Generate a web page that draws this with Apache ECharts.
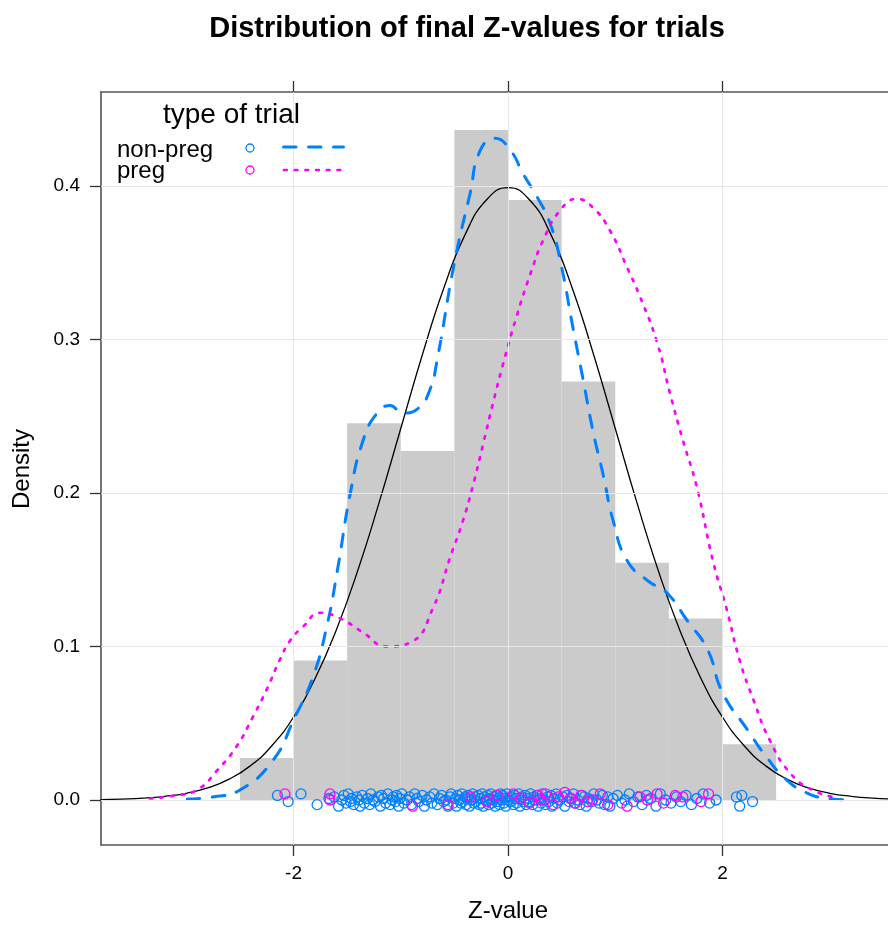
<!DOCTYPE html>
<html>
<head>
<meta charset="utf-8">
<script src="https://cdn.jsdelivr.net/npm/echarts@6/dist/echarts.min.js"></script>
<style>
html,body{margin:0;padding:0;background:#fff;}
#chart{width:888px;height:926px;}
</style>
</head>
<body>
<div id="chart"></div>
<script>
// ---- data ----
const binEdges = [-2.5, -2, -1.5, -1, -0.5, 0, 0.5, 1, 1.5, 2, 2.5];
const binDensity = [0.0273, 0.0909, 0.2455, 0.2273, 0.4364, 0.3909, 0.2727, 0.1545, 0.1182, 0.0364];

const xTicks = [-2, 0, 2];
const yTicks = [0, 0.1, 0.2, 0.3, 0.4];

// reference normal curve
const normX = [-3.8,-3.6,-3.4,-3.2,-3.0,-2.8,-2.6,-2.4,-2.2,-2.0,-1.8,-1.6,-1.4,-1.2,-1.0,-0.8,-0.6,-0.4,-0.2,0,
               0.2,0.4,0.6,0.8,1.0,1.2,1.4,1.6,1.8,2.0,2.2,2.4,2.6,2.8,3.0,3.2,3.4,3.6,3.8];
const normY = [0.0003,0.0006,0.0012,0.0024,0.0044,0.0079,0.0136,0.0224,0.0355,0.0540,0.0790,0.1109,0.1497,0.1942,0.2420,0.2897,0.3332,0.3683,0.3910,0.3989,
               0.3910,0.3683,0.3332,0.2897,0.2420,0.1942,0.1497,0.1109,0.0790,0.0540,0.0355,0.0224,0.0136,0.0079,0.0044,0.0024,0.0012,0.0006,0.0003];

// non-preg density curve
const nonPregX = [-2.99,-2.75,-2.50,-2.19,-2.00,-1.82,-1.69,-1.59,-1.47,-1.35,-1.22,-1.10,-0.98,-0.84,-0.73,-0.66,-0.50,-0.354,-0.26,-0.12,
                  0.02,0.14,0.27,0.39,0.485,0.61,0.70,0.79,0.89,0.98,1.11,1.30,1.48,1.67,1.86,2.00,2.23,2.41,2.60,2.79,2.97,3.12];
const nonPregY = [0.0007,0.0020,0.0065,0.026,0.052,0.080,0.113,0.150,0.200,0.2345,0.252,0.257,0.252,0.255,0.267,0.287,0.350,0.395,0.423,0.431,
                  0.4235,0.408,0.393,0.376,0.352,0.306,0.274,0.241,0.211,0.182,0.156,0.143,0.135,0.117,0.098,0.070,0.046,0.028,0.013,0.0045,0.001,0.0002];

// preg density curve
const pregX = [-3.34,-3.10,-2.90,-2.71,-2.53,-2.38,-2.25,-2.13,-2.03,-1.91,-1.75,-1.57,-1.35,-1.13,-0.90,-0.70,-0.54,-0.42,-0.33,-0.23,-0.14,-0.05,
               0.08,0.21,0.33,0.485,0.64,0.79,0.95,1.11,1.23,1.39,1.51,1.63,1.76,1.91,2.04,2.16,2.29,2.44,2.63,2.84,3.07];
const pregY = [0.001,0.003,0.0065,0.0195,0.035,0.054,0.072,0.091,0.104,0.113,0.122,0.1185,0.109,0.100,0.103,0.125,0.158,0.182,0.204,0.2325,0.2585,0.283,
               0.315,0.343,0.365,0.384,0.3915,0.386,0.371,0.347,0.328,0.298,0.265,0.2345,0.204,0.156,0.124,0.091,0.065,0.039,0.0176,0.0065,0.0013];

// rug points (Z-values) with their vertical jitter
const nonPregRug = [-2.15,-2.05,
  -1.93,-1.78,-1.67,-1.62,-1.58,-1.55,-1.53,-1.51,
  -1.49,-1.47,-1.46,-1.44,-1.41,-1.39,-1.38,-1.36,-1.34,-1.31,-1.29,-1.28,-1.26,-1.24,-1.21,-1.19,-1.18,-1.16,-1.14,-1.12,-1.10,-1.08,-1.07,-1.05,-1.04,-1.02,-1.01,
  -0.99,-0.97,-0.94,-0.92,-0.90,-0.87,-0.85,-0.83,-0.80,-0.78,-0.76,-0.73,-0.71,-0.69,-0.66,-0.64,-0.62,-0.60,-0.58,-0.56,-0.54,-0.53,-0.51,
  -0.49,-0.48,-0.47,-0.45,-0.44,-0.43,-0.42,-0.40,-0.39,-0.38,-0.37,-0.36,-0.34,-0.33,-0.32,-0.31,-0.30,-0.28,-0.27,-0.26,-0.25,-0.24,-0.23,-0.22,-0.21,-0.20,-0.19,-0.18,-0.17,-0.16,-0.15,-0.14,-0.13,-0.12,-0.11,-0.10,-0.09,-0.08,-0.07,-0.06,-0.05,-0.04,-0.03,-0.02,-0.01,
  0.01,0.02,0.03,0.05,0.06,0.07,0.08,0.10,0.11,0.12,0.13,0.15,0.16,0.17,0.19,0.20,0.21,0.23,0.24,0.25,0.27,0.28,0.30,0.31,0.32,0.34,0.35,0.37,0.38,0.40,0.41,0.43,0.45,0.46,0.48,
  0.51,0.53,0.55,0.57,0.59,0.61,0.63,0.65,0.67,0.69,0.71,0.73,0.75,0.78,0.80,0.83,0.85,0.88,0.90,0.93,0.95,0.98,
  1.02,1.06,1.09,1.13,1.17,1.21,1.25,1.29,1.33,1.38,1.42,1.47,
  1.52,1.57,1.61,1.66,1.71,1.76,1.82,1.88,1.94,
  2.13,2.16,2.18,2.28];
const nonPregJitter = [
  0.003,-0.001,0.004,-0.003,0.001,0.002,-0.004,0.000,0.003,-0.002,0.004,-0.001,0.001,-0.003,0.002,0.000,-0.004,0.003,-0.002,0.001,
  -0.003,0.004,0.000,-0.001,0.002,-0.004,0.003,0.001,-0.002,0.004,-0.003,0.000,0.002,-0.001,0.003,-0.004,0.001,0.004,-0.002,0.000,
  0.002,-0.003,0.004,0.001,-0.001,0.003,-0.004,0.000,0.002,-0.002,0.004,-0.003,0.001,0.003,-0.001,0.000,-0.004,0.002,0.004,-0.002,
  0.001,-0.004,0.003,0.000,-0.002,0.004,-0.001,0.002,-0.003,0.001,0.003,-0.004,0.000,0.004,-0.002,0.002,-0.001,0.003,-0.003,0.001,
  -0.002,0.004,-0.004,0.002,0.000,-0.001,0.003,-0.003,0.001,0.004,-0.002,0.000,0.002,-0.004,0.003,-0.001,0.001,-0.003,0.004,0.000,
  0.003,-0.002,0.001,-0.004,0.004,0.000,-0.001,0.002,-0.003,0.003,0.001,-0.002,0.004,-0.004,0.000,0.002,-0.001,0.003,-0.003,0.001,
  -0.001,0.004,-0.003,0.002,0.000,0.003,-0.004,0.001,-0.002,0.004,0.000,-0.003,0.002,-0.001,0.003,-0.004,0.001,0.004,-0.002,0.000,
  0.002,-0.004,0.003,-0.001,0.001,0.004,-0.002,0.000,-0.003,0.003,0.002,-0.004,0.001,-0.001,0.004,0.000,-0.002,0.003,-0.003,0.002,
  -0.004,0.001,0.003,-0.002,0.000,0.004,-0.001,0.002,-0.003,0.003,0.001,-0.004,0.004,0.000,-0.002,0.002,-0.001,
  0.003,-0.003,0.001,0.004,-0.002,0.000,0.002,-0.004,0.003,-0.001];
const pregRug = [-2.08,-1.66,-1.66,-0.89,-0.56,-0.35,-0.20,-0.10,0.05,0.12,0.20,0.28,0.31,0.35,0.42,0.47,0.53,0.58,0.62,0.68,0.74,0.79,0.86,0.93,
  1.11,1.23,1.30,1.39,1.45,1.56,1.63,1.80,1.87];
const pregJitter = [0.004,0.004,0.000,-0.004,-0.003,0.002,-0.001,0.003,0.004,0.001,-0.002,0.003,0.000,0.004,-0.003,0.002,0.005,0.001,-0.002,0.003,-0.001,0.000,0.004,-0.003,
  -0.004,0.002,0.000,0.004,-0.002,0.003,0.002,-0.001,0.004];

const groups = ['non-preg', 'preg'];
const titleText = 'Distribution of final Z-values for trials';

// ---- build ----
const FONT = 'Liberation Sans, Arial, Helvetica, sans-serif';
const BLUE = '#0080ff';
const MAG = '#ff00ff';
const zip = (a, b) => a.map((v, i) => [v, b[i] || 0]);

const histData = binDensity.map((d, i) => [binEdges[i], binEdges[i + 1], d]);

const chart = echarts.init(document.getElementById('chart'), null, {renderer: 'canvas'});

const gridLines = xTicks.map(v => ({xAxis: v})).concat(yTicks.map(v => ({yAxis: v})));

const X_MIN = -3.795, X_MAX = 3.543;

const option = {
  animation: false,
  backgroundColor: '#ffffff',
  grid: {left: 101, top: 92, right: 0, height: 753, containLabel: false},
  xAxis: [{
    type: 'value', position: 'bottom', min: X_MIN, max: X_MAX,
    axisLine: {show: true, onZero: false, lineStyle: {color: '#555', width: 1.6}},
    axisTick: {show: true, customValues: xTicks, length: 11, inside: false, lineStyle: {color: '#333', width: 1.3}},
    axisLabel: {show: true, customValues: xTicks, margin: 19, fontSize: 19, color: '#000', fontFamily: FONT},
    splitLine: {show: false}
  }, {
    type: 'value', position: 'top', min: X_MIN, max: X_MAX,
    axisLine: {show: true, onZero: false, lineStyle: {color: '#555', width: 1.6}},
    axisTick: {show: true, customValues: xTicks, length: 11, inside: false, lineStyle: {color: '#333', width: 1.3}},
    axisLabel: {show: false},
    splitLine: {show: false}
  }],
  yAxis: [{
    type: 'value', position: 'left', min: -0.0293, max: 0.4612,
    axisLine: {show: true, onZero: false, lineStyle: {color: '#555', width: 1.6}},
    axisTick: {show: true, customValues: yTicks, length: 11, inside: false, lineStyle: {color: '#333', width: 1.3}},
    axisLabel: {show: true, customValues: yTicks, margin: 21, fontSize: 19, color: '#000', fontFamily: FONT,
      formatter: v => Number(v).toFixed(1)},
    splitLine: {show: false}
  }],
  series: [
    {
      type: 'custom', name: 'hist', z: 1, clip: true,
      data: histData,
      encode: {x: [0, 1], y: 2},
      renderItem: function (params, api) {
        const p0 = api.coord([api.value(0), api.value(2)]);
        const p1 = api.coord([api.value(1), 0]);
        return {type: 'rect', shape: {x: p0[0], y: p0[1], width: p1[0] - p0[0], height: p1[1] - p0[1]},
          style: {fill: '#cbcbcb'}};
      }
    },
    {
      type: 'line', name: 'grid', z: 2, data: [], silent: true,
      markLine: {silent: true, symbol: ['none', 'none'], label: {show: false}, animation: false,
        lineStyle: {color: '#e8e8e8', type: 'solid', width: 1}, emphasis: {disabled: true},
        data: gridLines}
    },
    {
      type: 'line', name: 'normal', z: 4, smooth: 0.5, showSymbol: false, symbol: 'none',
      data: zip(normX, normY), lineStyle: {color: '#000', width: 1.3}
    },
    {
      type: 'line', name: 'non-preg density', z: 4, smooth: 0.5, showSymbol: false, symbol: 'none',
      data: zip(nonPregX, nonPregY),
      lineStyle: {color: BLUE, width: 3, type: [12.5, 12.5], cap: 'round'}
    },
    {
      type: 'line', name: 'preg density', z: 4, smooth: 0.5, showSymbol: false, symbol: 'none',
      data: zip(pregX, pregY),
      lineStyle: {color: MAG, width: 2.7, type: [2.7, 8], cap: 'round'}
    },
    {
      type: 'scatter', name: 'non-preg', z: 5, symbol: 'circle', symbolSize: 10,
      data: zip(nonPregRug, nonPregJitter),
      itemStyle: {color: 'rgba(0,0,0,0)', borderColor: BLUE, borderWidth: 1.3, opacity: 1}
    },
    {
      type: 'scatter', name: 'preg', z: 6, symbol: 'circle', symbolSize: 10,
      data: zip(pregRug, pregJitter),
      itemStyle: {color: 'rgba(0,0,0,0)', borderColor: MAG, borderWidth: 1.3, opacity: 1}
    }
  ],
  graphic: [
    {type: 'text', x: 467, y: 29, style: {text: titleText, font: 'bold 29px ' + FONT, fill: '#000', textAlign: 'center', textVerticalAlign: 'middle'}},
    {type: 'text', x: 508, y: 911, style: {text: 'Z-value', font: '24px ' + FONT, fill: '#000', textAlign: 'center', textVerticalAlign: 'middle'}},
    {type: 'text', x: 22, y: 469, rotation: Math.PI / 2, style: {text: 'Density', font: '24px ' + FONT, fill: '#000', textAlign: 'center', textVerticalAlign: 'middle'}},
    {type: 'text', x: 163, y: 115, z: 10, style: {text: 'type of trial', font: '28px ' + FONT, fill: '#000', textAlign: 'left', textVerticalAlign: 'middle'}},
    {type: 'text', x: 117, y: 150, z: 10, style: {text: groups[0], font: '24px ' + FONT, fill: '#000', textAlign: 'left', textVerticalAlign: 'middle'}},
    {type: 'text', x: 117, y: 171, z: 10, style: {text: groups[1], font: '24px ' + FONT, fill: '#000', textAlign: 'left', textVerticalAlign: 'middle'}},
    {type: 'circle', z: 10, shape: {cx: 250, cy: 148, r: 4}, style: {fill: 'none', stroke: BLUE, lineWidth: 1.3}},
    {type: 'circle', z: 10, shape: {cx: 250, cy: 170, r: 4}, style: {fill: 'none', stroke: MAG, lineWidth: 1.3}},
    {type: 'line', z: 10, shape: {x1: 283.5, y1: 147, x2: 343.5, y2: 147}, style: {stroke: BLUE, lineWidth: 3, lineDash: [12.5, 12.5], lineCap: 'round'}},
    {type: 'line', z: 10, shape: {x1: 284, y1: 170, x2: 347, y2: 170}, style: {stroke: MAG, lineWidth: 2.7, lineDash: [2.7, 8], lineCap: 'round'}}
  ]
};
chart.setOption(option);
</script>
</body>
</html>
